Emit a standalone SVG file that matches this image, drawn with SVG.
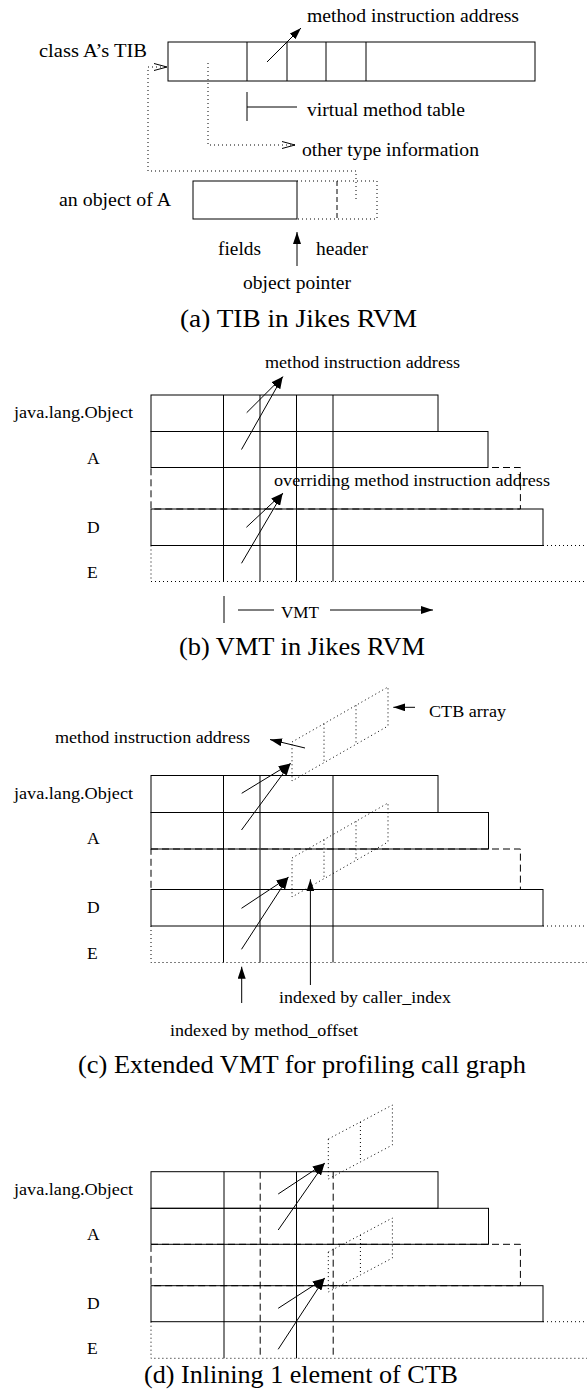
<svg xmlns="http://www.w3.org/2000/svg" width="587" height="1397" viewBox="0 0 587 1397">
<style>
.ln{stroke:#000;stroke-width:1;fill:none}
.dash{stroke-dasharray:7 4}
.dot{stroke-dasharray:1 3}
text{font-family:"Liberation Serif","Times New Roman",serif;fill:#000}
.la{font-size:18.5px}
.lb{font-size:17.5px}
.cap{font-size:25px}
</style>
<defs>
<marker id="ah" viewBox="0 0 12 8" refX="12" refY="4" markerWidth="12" markerHeight="8" orient="auto" markerUnits="userSpaceOnUse"><path d="M0,0 L12,4 L0,8 z" fill="#000"/></marker>
<marker id="oa" viewBox="0 0 13 8" refX="13" refY="4" markerWidth="13" markerHeight="8" orient="auto" markerUnits="userSpaceOnUse"><path d="M0,0.5 L13,4 L0,7.5" fill="none" stroke="#000" stroke-width="1"/></marker>
</defs>
<rect width="587" height="1397" fill="#fff"/>

<!-- Panel (a) -->
<g id="a-tib" class="ln">
<rect x="168" y="42" width="367" height="39"/>
<path d="M247,42V81M287,42V81M326,42V81M366,42V81"/>
</g>
<g id="a-vmt-bracket" class="ln"><path d="M247,92V121M247,107H297"/></g>
<g id="a-object" class="ln">
<rect x="193" y="181" width="104" height="38"/>
<path class="dot" d="M297,181H377V219H297"/>
<path class="dash" d="M337,181V219" style="stroke-dasharray:5 3"/>
</g>
<g id="a-texts">
<text class="la" x="39" y="57" textLength="108" lengthAdjust="spacingAndGlyphs">class A’s TIB</text>
<text class="la" x="307" y="22" textLength="212" lengthAdjust="spacingAndGlyphs">method instruction address</text>
<text class="la" x="307" y="116" textLength="158" lengthAdjust="spacingAndGlyphs">virtual method table</text>
<text class="la" x="302" y="156" textLength="177" lengthAdjust="spacingAndGlyphs">other type information</text>
<text class="la" x="59" y="205.5" textLength="112" lengthAdjust="spacingAndGlyphs">an object of A</text>
<text class="la" x="218" y="255" textLength="43" lengthAdjust="spacingAndGlyphs">fields</text>
<text class="la" x="316" y="255" textLength="52" lengthAdjust="spacingAndGlyphs">header</text>
<text class="la" x="243" y="289" textLength="108" lengthAdjust="spacingAndGlyphs">object pointer</text>
<text class="cap" x="180" y="327" textLength="237" lengthAdjust="spacingAndGlyphs">(a) TIB in Jikes RVM</text>
</g>

<!-- Panel (b) -->
<g id="b-vmt" class="ln">
<path class="dash" d="M151,467.5H520.4V509H151z"/>
<rect x="151" y="395" width="287" height="36.5"/>
<rect x="151" y="431.5" width="337" height="36"/>
<rect x="151" y="509" width="392" height="36.5"/>
<path class="dot" d="M543,545.5H587M151,545.5V581.5H587"/>
<path d="M223.5,395V581.5M260,395V581.5M296.5,395V581.5M333,395V581.5"/>
</g>
<g id="b-texts">
<text class="lb" x="265" y="368" textLength="195" lengthAdjust="spacingAndGlyphs">method instruction address</text>
<text class="lb" x="14" y="418" textLength="119" lengthAdjust="spacingAndGlyphs">java.lang.Object</text>
<text class="lb" x="87" y="463.5">A</text>
<text class="lb" x="274" y="486" textLength="276" lengthAdjust="spacingAndGlyphs">overriding method instruction address</text>
<text class="lb" x="87" y="532.5">D</text>
<text class="lb" x="87" y="578">E</text>
<text class="lb" x="281" y="618" textLength="38" lengthAdjust="spacingAndGlyphs">VMT</text>
<text class="cap" x="179" y="655" textLength="246" lengthAdjust="spacingAndGlyphs">(b) VMT in Jikes RVM</text>
</g>
<g id="b-vmt-bracket" class="ln"><path d="M224,596V623M238,610H274"/></g>

<!-- Panel (c) -->
<g id="c-vmt" class="ln">
<path class="dash" d="M151,849H520.4V889.5H151z"/>
<rect x="151" y="775.5" width="287" height="37"/>
<rect x="151" y="812.5" width="337.5" height="36.5"/>
<rect x="151" y="889.5" width="392" height="36.5"/>
<path class="dot" d="M543,926H587M151,926V962.5H587"/>
<path d="M223.5,775.5V962.5M260,775.5V962.5M333,775.5V962.5"/>
</g>
<g id="c-ctb-upper" class="ln dot">
<path d="M292,742L388,687V726L292,781z"/>
<path d="M324,723.7V762.7M356,705.3V744.3"/>
</g>
<g id="c-ctb-lower" class="ln dot">
<path d="M292,858L388,803V842L292,897z"/>
<path d="M324,839.7V878.7M356,821.3V860.3"/>
</g>
<g id="c-texts">
<text class="lb" x="55" y="743" textLength="195" lengthAdjust="spacingAndGlyphs">method instruction address</text>
<text class="lb" x="429" y="717" textLength="77" lengthAdjust="spacingAndGlyphs">CTB array</text>
<text class="lb" x="14" y="799" textLength="119" lengthAdjust="spacingAndGlyphs">java.lang.Object</text>
<text class="lb" x="87" y="844">A</text>
<text class="lb" x="87" y="913">D</text>
<text class="lb" x="87" y="958.5">E</text>
<text class="lb" x="279" y="1003" textLength="172" lengthAdjust="spacingAndGlyphs">indexed by caller_index</text>
<text class="lb" x="170" y="1035.5" textLength="188" lengthAdjust="spacingAndGlyphs">indexed by method_offset</text>
<text class="cap" x="78" y="1073" textLength="448" lengthAdjust="spacingAndGlyphs">(c) Extended VMT for profiling call graph</text>
</g>

<!-- Panel (d) -->
<g id="d-vmt" class="ln">
<path class="dash" d="M151,1244.3H520.4V1285.7H151z"/>
<rect x="151" y="1171.7" width="287" height="36.6"/>
<rect x="151" y="1208.3" width="337.5" height="36"/>
<rect x="151" y="1285.7" width="392" height="36"/>
<path class="dot" d="M543,1321.7H587M151,1321.7V1358.3H587"/>
<path d="M224,1171.7V1358.3M296.5,1171.7V1358.3"/>
<path class="dash" d="M260.2,1171.7V1358.3M333.2,1171.7V1358.3"/>
</g>
<g id="d-ctb-upper" class="ln dot">
<path d="M328.3,1139L392.4,1105V1145L328.3,1179z"/>
<path d="M360.4,1122V1162"/>
</g>
<g id="d-ctb-lower" class="ln dot">
<path d="M328.3,1252L392.4,1218V1258L328.3,1292z"/>
<path d="M360.4,1235V1275"/>
</g>
<g id="d-texts">
<text class="lb" x="14" y="1195" textLength="119" lengthAdjust="spacingAndGlyphs">java.lang.Object</text>
<text class="lb" x="87" y="1239.5">A</text>
<text class="lb" x="87" y="1308.5">D</text>
<text class="lb" x="87" y="1353.5">E</text>
<text class="cap" x="144" y="1383" textLength="314" lengthAdjust="spacingAndGlyphs">(d) Inlining 1 element of CTB</text>
</g>

<!-- Connectors -->
<g id="connectors" class="ln">
<path d="M267,62L301,28" marker-end="url(#ah)"/>
<path class="dot" d="M208,63V145H295" marker-end="url(#oa)"/>
<path class="dot" d="M356,199V171H148V67H167" marker-end="url(#oa)"/>
<path d="M297,266V232" marker-end="url(#ah)"/>
<path d="M246.7,412.7L282.7,376.7" marker-end="url(#ah)"/>
<path d="M241.5,449.5L282.7,376.7" marker-end="url(#ah)"/>
<path d="M246.4,527.3L282.7,493.3" marker-end="url(#ah)"/>
<path d="M241.5,563.3L282.7,493.3" marker-end="url(#ah)"/>
<path d="M330,610H433" marker-end="url(#ah)"/>
<path d="M305,748L270,739.5" marker-end="url(#ah)"/>
<path d="M415,707.3H393.3" marker-end="url(#ah)"/>
<path d="M241.7,793.3L290.5,763.5" marker-end="url(#ah)"/>
<path d="M241.5,830L290.5,763.5" marker-end="url(#ah)"/>
<path d="M241.5,908.3L288.3,877.3" marker-end="url(#ah)"/>
<path d="M241.5,949.3L288.3,877.3" marker-end="url(#ah)"/>
<path d="M310.4,985V879.3" marker-end="url(#ah)"/>
<path d="M241.7,1003V966.7" marker-end="url(#ah)"/>
<path d="M278.2,1194L324.6,1163.3" marker-end="url(#ah)"/>
<path d="M278.2,1230L324.6,1163.3" marker-end="url(#ah)"/>
<path d="M278.2,1308.3L324.6,1278.3" marker-end="url(#ah)"/>
<path d="M278.2,1349.3L324.6,1278.3" marker-end="url(#ah)"/>
</g>
</svg>
